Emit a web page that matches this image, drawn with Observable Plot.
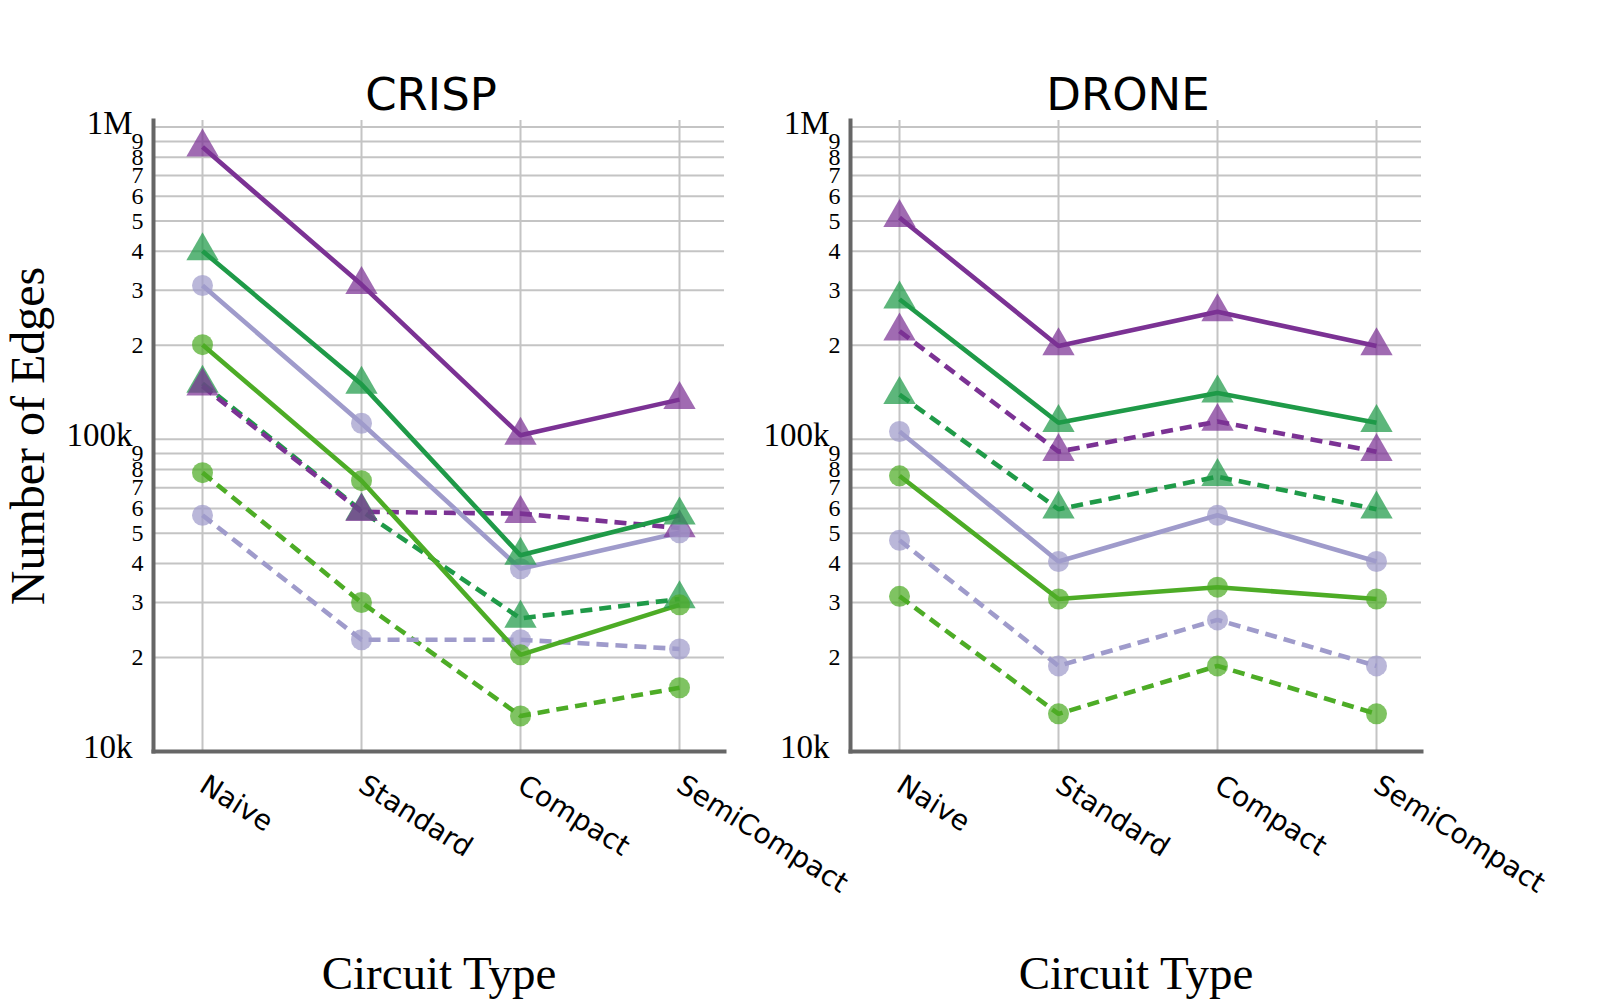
<!DOCTYPE html>
<html>
<head>
<meta charset="utf-8">
<script src="https://cdn.jsdelivr.net/npm/d3@7"></script>
<script src="https://cdn.jsdelivr.net/npm/@observablehq/plot@0.6"></script>
<style>
  html, body { margin: 0; padding: 0; background: #ffffff; }
  #root { position: relative; width: 1600px; height: 1000px; overflow: hidden; background: #ffffff; }
  #root > .panel { position: absolute; top: 0; }
</style>
</head>
<body>
<div id="root"></div>
<script>
// ---------- data ----------
const categories = ["Naive", "Standard", "Compact", "SemiCompact"];
const panelTitles = ["CRISP", "DRONE"];

// CRISP panel
const crispPurpleSolid      = [863000, 313000, 103000, 134000];
const crispGreenSolid       = [401000, 150000, 42500, 57100];
const crispLavenderSolid    = [311000, 112600, 38500, 50200];
const crispLightGreenSolid  = [201000, 73700, 20400, 29500];
const crispPurpleDashed     = [148000, 58600, 57800, 52000];
const crispGreenDashed      = [151000, 59000, 26700, 30800];
const crispLavenderDashed   = [57100, 22800, 22800, 21300];
const crispLightGreenDashed = [78200, 30000, 13000, 16000];

// DRONE panel
const dronePurpleSolid      = [513000, 199000, 256000, 199000];
const droneGreenSolid       = [281000, 113000, 140600, 113000];
const droneLavenderSolid    = [105900, 40600, 57100, 40600];
const droneLightGreenSolid  = [76400, 30800, 33600, 30800];
const dronePurpleDashed     = [222000, 91300, 114000, 91300];
const droneGreenDashed      = [139000, 59700, 75900, 59700];
const droneLavenderDashed   = [47500, 18800, 26400, 18800];
const droneLightGreenDashed = [31400, 13200, 18800, 13200];

// y-axis ticks
const majorTicks = [10000, 100000, 1000000];
const majorTickLabels = ["10k", "100k", "1M"];
const minorDigits = [2, 3, 4, 5, 6, 7, 8, 9];
const minorDecades = [10000, 100000];

// ---------- styles ----------
const seriesStyles = [
  {key: "purpleSolid",      color: "#7b3294", dashed: false, symbol: "triangle"},
  {key: "greenSolid",       color: "#1f9a48", dashed: false, symbol: "triangle"},
  {key: "lavenderSolid",    color: "#9f9bcb", dashed: false, symbol: "circle"},
  {key: "lightGreenSolid",  color: "#4dac26", dashed: false, symbol: "circle"},
  {key: "purpleDashed",     color: "#7b3294", dashed: true,  symbol: "triangle"},
  {key: "greenDashed",      color: "#1f9a48", dashed: true,  symbol: "triangle"},
  {key: "lavenderDashed",   color: "#9f9bcb", dashed: true,  symbol: "circle"},
  {key: "lightGreenDashed", color: "#4dac26", dashed: true,  symbol: "circle"}
];

const panelSeries = {
  CRISP: {
    purpleSolid: crispPurpleSolid, greenSolid: crispGreenSolid,
    lavenderSolid: crispLavenderSolid, lightGreenSolid: crispLightGreenSolid,
    purpleDashed: crispPurpleDashed, greenDashed: crispGreenDashed,
    lavenderDashed: crispLavenderDashed, lightGreenDashed: crispLightGreenDashed
  },
  DRONE: {
    purpleSolid: dronePurpleSolid, greenSolid: droneGreenSolid,
    lavenderSolid: droneLavenderSolid, lightGreenSolid: droneLightGreenSolid,
    purpleDashed: dronePurpleDashed, greenDashed: droneGreenDashed,
    lavenderDashed: droneLavenderDashed, lightGreenDashed: droneLightGreenDashed
  }
};

const minorTicks = minorDecades.flatMap(d => minorDigits.map(k => k * d));
const allGridTicks = [...majorTicks, ...minorTicks];
const majorLabel = new Map(majorTicks.map((t, i) => [t, majorTickLabels[i]]));

const SERIF = "'Liberation Serif', 'Times New Roman', serif";
const SANS = "'DejaVu Sans', sans-serif";
const GRID = "#c4c4c4";
const SPINE = "#666666";

function makePanel(title, showYTitle) {
  const data = panelSeries[title];
  const seriesMarks = [];
  for (const s of [...seriesStyles].reverse()) {
    const rows = data[s.key].map((v, i) => ({cat: categories[i], value: v}));
    seriesMarks.push(Plot.line(rows, {
      x: "cat", y: "value", stroke: s.color, strokeWidth: 4.6,
      strokeDasharray: s.dashed ? "12,7" : null, strokeLinejoin: "miter", strokeLinecap: "butt"
    }));
  }
  for (const s of [...seriesStyles].reverse()) {
    const rows = data[s.key].map((v, i) => ({cat: categories[i], value: v}));
    seriesMarks.push(Plot.dot(rows, {
      x: "cat", y: "value", symbol: s.symbol, fill: s.color, fillOpacity: 0.72,
      stroke: "none", r: s.symbol === "triangle" ? 12 : 10.5
    }));
  }

  return Plot.plot({
    width: 760,
    height: 1000,
    marginLeft: 153,
    marginRight: 36,
    marginTop: 120,
    marginBottom: 249,
    x: {type: "point", domain: categories, padding: 0.291, align: 0.524, axis: null},
    y: {type: "log", domain: [10000, 1050000], axis: null},
    style: {background: "transparent", overflow: "visible", color: "#000"},
    marks: [
      Plot.gridY(allGridTicks, {stroke: GRID, strokeOpacity: 1, strokeWidth: 2}),
      Plot.gridX(categories, {stroke: GRID, strokeOpacity: 1, strokeWidth: 2}),
      ...seriesMarks,
      Plot.frame({anchor: "left", stroke: SPINE, strokeWidth: 4}),
      Plot.frame({anchor: "bottom", stroke: SPINE, strokeWidth: 4}),
      Plot.axisY(majorTicks, {
        tickSize: 0, tickPadding: 21, tickFormat: d => majorLabel.get(d),
        fontSize: 33, fontFamily: SERIF, dy: -4, label: null, fill: "#000"
      }),
      Plot.axisY(minorTicks, {
        tickSize: 0, tickPadding: 10, tickFormat: d => String(Math.round(d / Math.pow(10, Math.floor(Math.log10(d) + 1e-9)))),
        fontSize: 24, fontFamily: SERIF, label: null, fill: "#000"
      }),
      Plot.axisX({
        tickSize: 0, tickRotate: 32, tickPadding: 31, fontSize: 28, fontFamily: SANS, label: null, fill: "#000"
      }),
      Plot.text([title], {
        frameAnchor: "top", dx: -8, dy: -25, lineAnchor: "middle", textAnchor: "middle",
        fontSize: 45, fontFamily: SANS, fill: "#000"
      }),
      Plot.text(["Circuit Type"], {
        frameAnchor: "bottom", dy: 222, lineAnchor: "middle", textAnchor: "middle",
        fontSize: 47, fontFamily: SERIF, fill: "#000"
      }),
      showYTitle ? Plot.text(["Number of Edges"], {
        frameAnchor: "left", rotate: -90, dx: -125, lineAnchor: "middle", textAnchor: "middle",
        fontSize: 48, fontFamily: SERIF, fill: "#000"
      }) : null
    ]
  });
}

const root = document.getElementById("root");
panelTitles.forEach((t, i) => {
  const wrap = document.createElement("div");
  wrap.className = "panel";
  wrap.style.left = (i * 697) + "px";
  wrap.appendChild(makePanel(t, i === 0));
  root.appendChild(wrap);
});
</script>
</body>
</html>
